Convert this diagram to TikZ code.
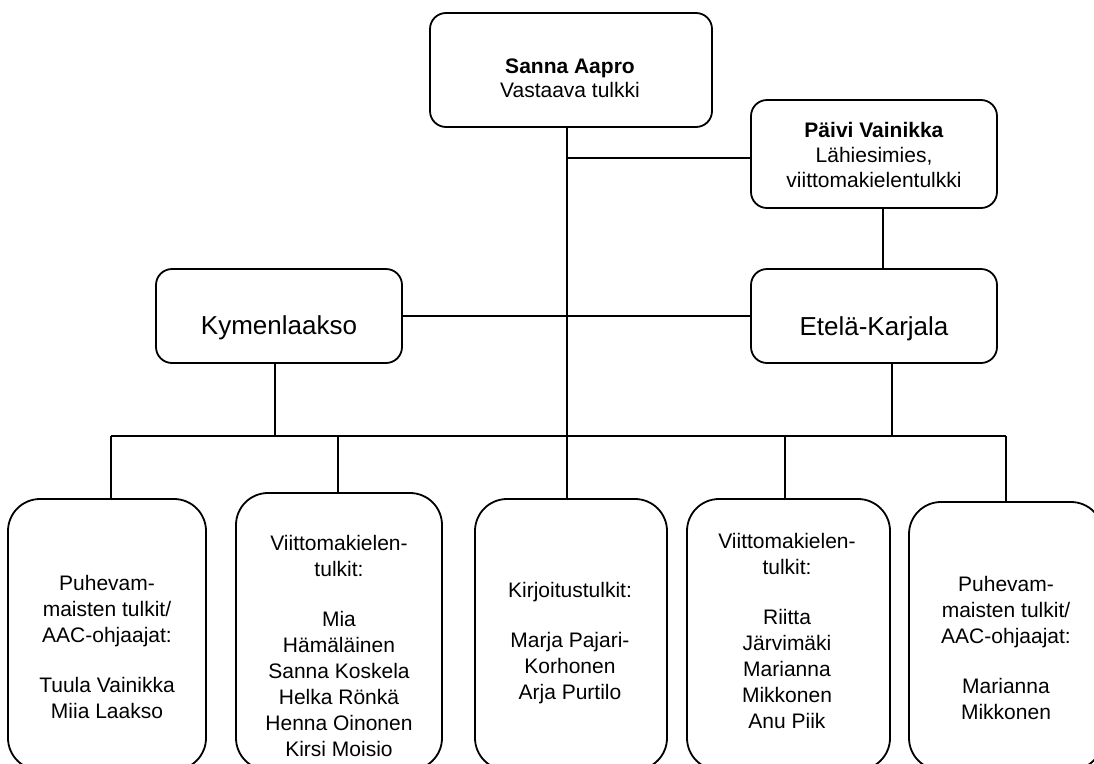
\documentclass[tikz,border=0pt]{standalone}
\usepackage{fontspec}
\setmainfont{Liberation Sans}
\begin{document}
\begin{tikzpicture}[x=1pt,y=-1pt,line width=1.8pt,
  box/.style={draw, rounded corners=16pt, inner sep=0pt},
  bigbox/.style={draw, rounded corners=32pt, inner sep=0pt},
  toptxt/.style={align=center, inner sep=0pt, font=\fontsize{21}{24.5}\selectfont},
  lowtxt/.style={align=center, inner sep=0pt, font=\fontsize{21}{26}\selectfont},
  regtxt/.style={anchor=base, inner sep=0pt, font=\fontsize{26}{30}\selectfont}]
\useasboundingbox (0,0) rectangle (1094,763);
\clip (0,0) rectangle (1094,763);

% boxes
\node[box, minimum width=282pt, minimum height=114pt] (sanna) at (571,70) {};
\node[box, minimum width=246pt, minimum height=108pt] (paivi) at (874,154) {};
\node[box, minimum width=246pt, minimum height=94pt] (kym) at (279,316) {};
\node[box, minimum width=246pt, minimum height=94pt] (etela) at (874,316) {};
\node[bigbox, minimum width=198pt, minimum height=271pt] (b1) at (107,634.5) {};
\node[bigbox, minimum width=206pt, minimum height=277pt] (b2) at (339,631.5) {};
\node[bigbox, minimum width=192pt, minimum height=271pt] (b3) at (571,634.5) {};
\node[bigbox, minimum width=203pt, minimum height=271pt] (b4) at (788.5,634.5) {};
\node[bigbox, minimum width=194pt, minimum height=268pt] (b5) at (1006,636) {};

% texts
\node[toptxt] (sannat) at (570,78.5) {\textbf{Sanna Aapro}\\Vastaava tulkki};
\node[toptxt, font=\fontsize{21}{25}\selectfont] (paivit) at (874,155) {\textbf{Päivi Vainikka}\\Lähiesimies,\\viittomakielentulkki};
\node[regtxt] (kymt) at (279,334.5) {Kymenlaakso};
\node[regtxt] (etelat) at (874,335) {Etelä-Karjala};
\node[lowtxt] (t1) at (107,647) {Puhevam-\\maisten tulkit/\\AAC-ohjaajat:\\[24pt]Tuula Vainikka\\Miia Laakso};
\node[lowtxt] (t2) at (339,645.5) {Viittomakielen-\\tulkit:\\[24pt]Mia\\Hämäläinen\\Sanna Koskela\\Helka Rönkä\\Henna Oinonen\\Kirsi Moisio};
\node[lowtxt] (t3) at (570,643.5) {Kirjoitustulkit:\\[24pt]Marja Pajari-\\Korhonen\\Arja Purtilo};
\node[lowtxt] (t4) at (787,631) {Viittomakielen-\\tulkit:\\[24pt]Riitta\\Järvimäki\\Marianna\\Mikkonen\\Anu Piik};
\node[lowtxt] (t5) at (1006,648) {Puhevam-\\maisten tulkit/\\AAC-ohjaajat:\\[24pt]Marianna\\Mikkonen};

% connectors
\coordinate (j1) at (567,158);
\coordinate (busL) at (111,436);
\coordinate (busR) at (1006,436);
\coordinate (d2) at (338,436);
\coordinate (d4) at (785,436);

\draw ([xshift=-4pt]sanna.south) -- ([xshift=-4pt]b3.north);
\draw (j1) -- (j1 -| paivi.west);
\draw ([xshift=9pt]paivi.south) -- ([xshift=9pt]etela.north);
\draw (kym.east) -- (etela.west);
\draw (busL) -- (busR);
\draw ([xshift=-4pt]kym.south) -- ([xshift=-4pt]kym.south |- busL);
\draw ([xshift=18pt]etela.south) -- ([xshift=18pt]etela.south |- busL);
\draw (busL) -- (busL |- b1.north);
\draw (d2) -- (d2 |- b2.north);
\draw (d4) -- (d4 |- b4.north);
\draw (busR) -- (b5.north);
\end{tikzpicture}
\end{document}
